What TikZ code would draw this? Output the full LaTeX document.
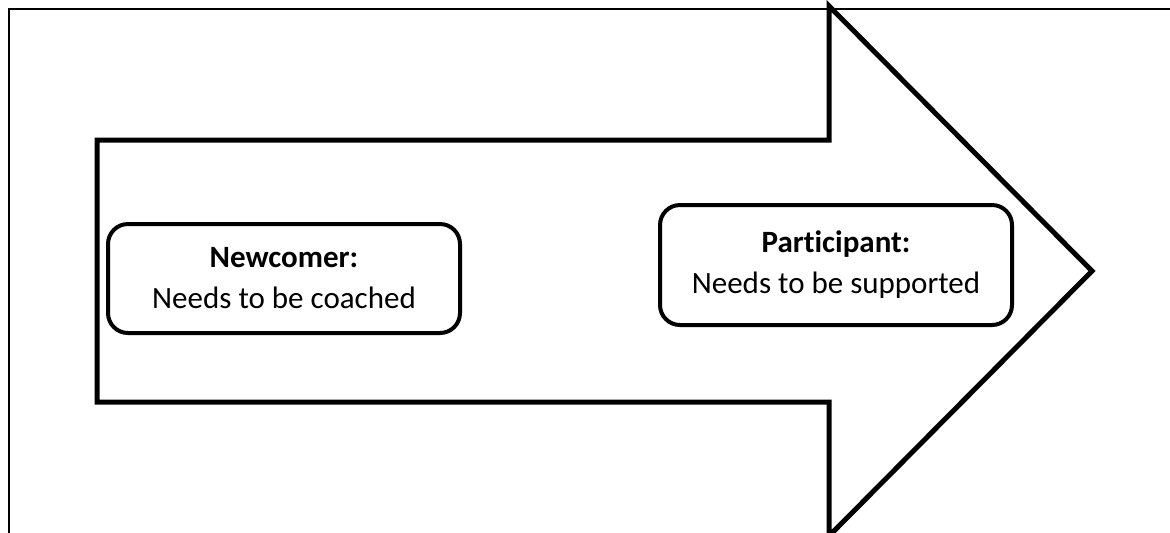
\documentclass[tikz,border=0pt]{standalone}
\usepackage{fontspec}
\setmainfont[Ligatures=NoCommon]{Carlito}
\usetikzlibrary{positioning}

\begin{document}
\begin{tikzpicture}[x=0.5pt,y=-0.5pt,
        every node/.append style={font=\fontsize{15.5}{20.5}\selectfont}]
      \tikzstyle{stage} = [draw,line width=2pt,rounded corners=10pt,align=center,
                           minimum width=176pt,inner sep=0pt]
      \useasboundingbox (0,0) rectangle (1170,532);
      % frame
      \draw[line width=1pt] (9,540) -- (9,9) -- (1180,9);
      % big arrow
      \draw[line width=2.5pt,line join=miter] (97,140) -- (829,140) -- (829,6)
        -- (1092,271) -- (829,536) -- (829,402) -- (97,402) -- cycle;
      \node (newcomer) [stage,minimum height=54.5pt] at (284,278.5)
        {\textbf{Newcomer:}\\ Needs to be coached};
      \node (participant) [stage,minimum height=60pt] at (836,265)
        {\textbf{Participant:}\\ Needs to be supported};
    \end{tikzpicture}
\end{document}
